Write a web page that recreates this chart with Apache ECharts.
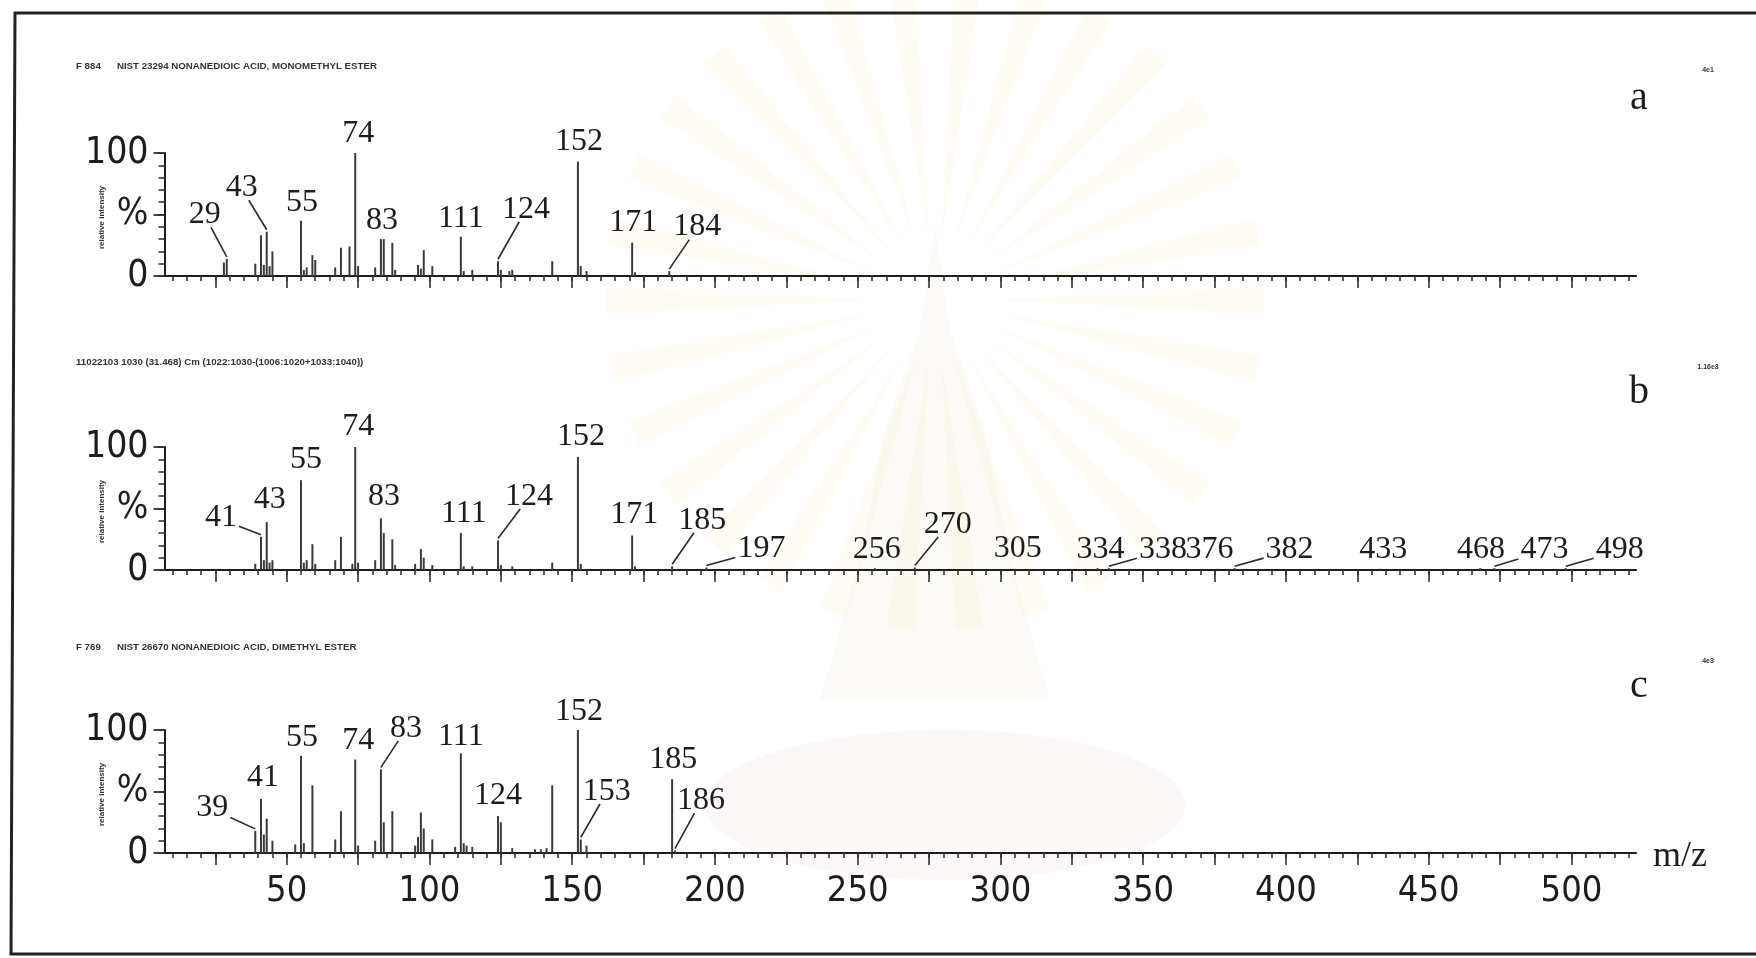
<!DOCTYPE html>
<html>
<head>
<meta charset="utf-8">
<script src="https://cdn.jsdelivr.net/npm/echarts@6/dist/echarts.min.js"></script>
<style>
  html, body { margin: 0; padding: 0; background: #ffffff; }
  #chart { width: 1756px; height: 958px; }
</style>
</head>
<body>
<div id="chart"></div>
<script>
// ---- spectrum a : library spectrum, nonanedioic acid monomethyl ester ----
const mzA  = [28, 29, 39, 41, 42, 43, 44, 45, 55, 56, 57, 59, 60, 67, 69, 72, 74, 75, 81, 83, 84, 87, 88,
              96, 97, 98, 101, 111, 112, 115, 124, 125, 128, 129, 143, 152, 153, 155, 171, 172, 184];
const relA = [11, 14, 10, 33, 9, 36, 8, 20, 45, 5, 7, 17, 13, 7, 23, 24, 100, 8, 7, 30, 30, 27, 5,
              9, 6, 21, 8, 32, 4, 5, 12, 5, 4, 5, 12, 93, 8, 4, 27, 3, 4];
const labelsA = [29, 43, 55, 74, 83, 111, 124, 152, 171, 184];

// ---- spectrum b : sample scan 1030 ----
const mzB  = [39, 41, 42, 43, 44, 45, 55, 56, 57, 59, 60, 67, 69, 73, 74, 75, 81, 83, 84, 87, 88, 95,
              97, 98, 101, 111, 112, 115, 124, 125, 129, 143, 152, 153, 171, 172, 185, 197, 256, 270,
              305, 334, 338, 376, 382, 433, 468, 473, 498];
const relB = [5, 27, 8, 39, 6, 8, 73, 6, 8, 21, 5, 8, 27, 5, 100, 6, 8, 42, 30, 25, 4, 5,
              17, 10, 4, 30, 3, 3, 24, 4, 3, 6, 92, 5, 28, 3, 3, 2, 1.5, 2,
              1, 1.5, 1.5, 1, 1.5, 1, 1.5, 1.5, 1.5];
const labelsB = [41, 43, 55, 74, 83, 111, 124, 152, 171, 185, 197, 256, 270, 305, 334, 338, 376, 382,
                 433, 468, 473, 498];

// ---- spectrum c : library spectrum, nonanedioic acid dimethyl ester ----
const mzC  = [39, 41, 42, 43, 45, 53, 55, 56, 59, 67, 69, 74, 75, 81, 83, 84, 87, 95, 96, 97, 98, 101,
              109, 111, 112, 113, 115, 124, 125, 129, 137, 139, 141, 143, 152, 153, 155, 185, 186, 202];
const relC = [18, 44, 15, 28, 10, 7, 79, 8, 55, 11, 34, 76, 6, 10, 68, 25, 34, 6, 13, 33, 20, 11,
              5, 81, 8, 6, 5, 30, 25, 4, 3, 3, 4, 55, 100, 11, 6, 60, 2, 1];
const labelsC = [39, 41, 55, 74, 83, 111, 124, 152, 153, 185, 186];

// axis ticks and labels
const xTickLabels = [50, 100, 150, 200, 250, 300, 350, 400, 450, 500];
const yTickLabels = [0, 50, 100];
const headers = [
  'F 884      NIST 23294 NONANEDIOIC ACID, MONOMETHYL ESTER',
  '11022103 1030 (31.468) Cm (1022:1030-(1006:1020+1033:1040))',
  'F 769      NIST 26670 NONANEDIOIC ACID, DIMETHYL ESTER'
];
const panelLetters = ['a', 'b', 'c'];
const scaleNotes = ['4e1', '1.16e3', '4e3'];

// label placement relative to the top of each labelled line: [dx, dy, leader]
const labelPlacement = [
  { 29: [-22, -44, 1], 43: [-25, -44, 1], 55: [1, -18], 74: [3, -19], 83: [1, -19], 111: [0, -18],
    124: [28, -52, 1], 152: [1, -20], 171: [1, -20], 184: [28, -44, 1] },
  { 41: [-40, -19, 1], 43: [3, -22], 55: [5, -21], 74: [3, -20], 83: [3, -22], 111: [3, -20],
    124: [31, -44, 1], 152: [3, -20], 171: [2, -21], 185: [30, -46, 1], 197: [55, -19, 1],
    256: [2, -19], 270: [33, -43, 1], 305: [3, -20], 334: [3, -19], 338: [54, -19, 1], 376: [-8, -19],
    382: [55, -19, 1], 433: [3, -19], 468: [1, -19], 473: [50, -19, 1], 498: [54, -19, 1] },
  { 39: [-43, -23, 1], 41: [2, -21], 55: [1, -18], 74: [3, -19], 83: [25, -41, 1], 111: [0, -17],
    124: [0, -21], 152: [1, -18], 153: [26, -48, 1], 185: [1, -20], 186: [26, -50, 1] }
];

const spectra = [[mzA, relA, labelsA], [mzB, relB, labelsB], [mzC, relC, labelsC]];

const MZ_MIN = 7.2, MZ_MAX = 522.6;
const minorTicks = [];
for (let v = 10; v <= 520; v += 5) minorTicks.push(v);
const majorTicks = [];
for (let v = 25; v <= 500; v += 25) majorTicks.push(v);
const yMinorTicks = [0, 10, 20, 30, 40, 50, 60, 70, 80, 90, 100];

const INK = '#1d1d1d';
const BAR = '#3a3a3a';
const SANS_NARROW = '"Liberation Sans Narrow", "DejaVu Sans Condensed", "Liberation Sans", sans-serif';
const SANS = '"Liberation Sans", sans-serif';
const SERIF = '"Liberation Serif", "DejaVu Serif", serif';
const FS_PEAK = 32;

const panelTops = [153, 447, 730];
const PANEL_H = 123;
const GRID_LEFT = 164.5, GRID_W = 1471.5;

const grids = [], xAxes = [], yAxes = [], series = [];

function lineRenderer(params, api) {
  const m = api.value(0), v = api.value(1);
  const p0 = api.coord([m, 0]);
  const p1 = api.coord([m, v]);
  return { type: 'line', shape: { x1: p0[0], y1: p0[1], x2: p1[0], y2: p1[1] },
           style: { stroke: BAR, lineWidth: 2 } };
}

function makeLabelRenderer(placement) {
  return function (params, api) {
    const m = api.value(0), v = api.value(1);
    const top = api.coord([m, v]);
    const off = placement[m] || [0, -19];
    const cx = top[0] + off[0], cy = top[1] + off[1];
    const children = [{
      type: 'text', x: cx, y: cy,
      style: { text: String(m), fontSize: FS_PEAK, fontFamily: SERIF, fill: INK,
               align: 'center', verticalAlign: 'middle' }
    }];
    if (off[2]) {
      const hw = String(m).length * 0.25 * FS_PEAK + 2, hh = 0.36 * FS_PEAK + 1;
      const t = Math.min(hw / Math.max(Math.abs(off[0]), 1e-6), hh / Math.max(Math.abs(off[1]), 1e-6));
      children.push({
        type: 'line',
        shape: { x1: top[0], y1: top[1] - 2, x2: cx - off[0] * t, y2: cy - off[1] * t },
        style: { stroke: '#2a2a2a', lineWidth: 1.6 }
      });
    }
    return { type: 'group', children };
  };
}

spectra.forEach(function (sp, i) {
  const [mz, rel, labelled] = sp;
  grids.push({ left: GRID_LEFT, top: panelTops[i], width: GRID_W, height: PANEL_H, containLabel: false });

  // short ticks every 5 m/z
  xAxes.push({
    type: 'value', gridIndex: i, min: MZ_MIN, max: MZ_MAX, position: 'bottom',
    axisLine: { show: true, onZero: false, lineStyle: { color: INK, width: 2.2 } },
    axisTick: { show: true, customValues: minorTicks, length: 5, lineStyle: { color: '#333', width: 1.6 } },
    axisLabel: { show: false }, splitLine: { show: false }
  });
  // long ticks every 25 m/z, numbers on the lowest panel
  xAxes.push({
    type: 'value', gridIndex: i, min: MZ_MIN, max: MZ_MAX, position: 'bottom',
    axisLine: { show: false },
    axisTick: { show: true, customValues: majorTicks, length: 12, lineStyle: { color: '#333', width: 1.6 } },
    axisLabel: { show: i === 2, customValues: xTickLabels, fontFamily: SANS_NARROW, fontSize: 36,
                 color: INK, margin: 21 },
    splitLine: { show: false }
  });
  // intensity axis
  yAxes.push({
    type: 'value', gridIndex: i, min: 0, max: 100, position: 'left',
    axisLine: { show: true, lineStyle: { color: INK, width: 2 } },
    axisTick: { show: true, customValues: yMinorTicks, length: 6, lineStyle: { color: '#333', width: 1.6 } },
    axisLabel: { show: false }, splitLine: { show: false }
  });
  yAxes.push({
    type: 'value', gridIndex: i, min: 0, max: 100, position: 'left',
    axisLine: { show: false },
    axisTick: { show: true, customValues: yTickLabels, length: 11, lineStyle: { color: '#333', width: 1.8 } },
    axisLabel: { show: true, customValues: yTickLabels, fontFamily: SANS_NARROW, fontSize: 37,
                 color: INK, margin: 16,
                 formatter: function (v) { return v === 50 ? '%' : String(v); } },
    splitLine: { show: false }
  });

  series.push({
    type: 'custom', xAxisIndex: 2 * i, yAxisIndex: 2 * i,
    data: mz.map(function (m, k) { return [m, rel[k]]; }),
    renderItem: lineRenderer, silent: true, clip: false
  });
  series.push({
    type: 'custom', xAxisIndex: 2 * i, yAxisIndex: 2 * i,
    data: labelled.map(function (m) { return [m, rel[mz.indexOf(m)]]; }),
    renderItem: makeLabelRenderer(labelPlacement[i]), silent: true, clip: false, z: 5
  });
});

// very faint emblem printed behind the figure: sunburst, spire and cushion
const emblem = [];
const EC = [935, 300];
for (let a = 0; a < 360; a += 12) {
  const r0 = 60, r1 = 330, half = 2.4 * Math.PI / 180, th = a * Math.PI / 180;
  emblem.push({ type: 'polygon', silent: true,
    shape: { points: [
      [EC[0] + r0 * Math.cos(th), EC[1] + r0 * Math.sin(th)],
      [EC[0] + r1 * Math.cos(th - half), EC[1] + r1 * Math.sin(th - half)],
      [EC[0] + r1 * Math.cos(th + half), EC[1] + r1 * Math.sin(th + half)]] },
    style: { fill: 'rgba(246, 228, 160, 0.10)', shadowBlur: 12, shadowColor: 'rgba(246, 228, 160, 0.10)' } });
}
emblem.push({ type: 'polygon', silent: true,
  shape: { points: [[935, 225], [950, 330], [985, 430], [1010, 560], [1050, 700], [820, 700], [860, 560],
                    [885, 430], [920, 330]] },
  style: { fill: 'rgba(236, 226, 196, 0.14)' } });
emblem.push({ type: 'ellipse', silent: true, shape: { cx: 945, cy: 805, rx: 240, ry: 75 },
  style: { fill: 'rgba(240, 200, 200, 0.12)' } });

// page furniture: frame, run headers, panel letters, axis captions
const headerY = [66, 362, 647];
const letterY = [98, 392, 686];
const noteY = [70, 367, 661];
const graphics = [{ type: 'group', z: -10, children: emblem }, {
  type: 'polyline', silent: true,
  shape: { points: [[1760, 13], [15, 13], [11, 954], [1760, 954]] },
  style: { stroke: '#222', lineWidth: 3, fill: null }
}];
for (let i = 0; i < 3; i++) {
  graphics.push({ type: 'text', left: 76, top: headerY[i] - 5, silent: true,
    style: { text: headers[i], fontSize: 9.7, fontWeight: 'bold', fontFamily: SANS, fill: '#333' } });
  graphics.push({ type: 'text', x: 1639, y: letterY[i], silent: true,
    style: { text: panelLetters[i], fontSize: 40, fontFamily: SERIF, fill: INK, align: 'center', verticalAlign: 'middle' } });
  graphics.push({ type: 'text', x: 1708, y: noteY[i], silent: true,
    style: { text: scaleNotes[i], fontSize: 7, fontWeight: 'bold', fontFamily: SANS, fill: '#333', align: 'center', verticalAlign: 'middle' } });
  graphics.push({ type: 'text', x: 102, y: panelTops[i] + PANEL_H / 2 + 3, rotation: Math.PI / 2, silent: true,
    style: { text: 'relative intensity', fontSize: 8, fontWeight: 'bold', fontFamily: SANS, fill: '#333', align: 'center', verticalAlign: 'middle' } });
}
graphics.push({ type: 'text', x: 1680, y: 857, silent: true,
  style: { text: 'm/z', fontSize: 36, fontFamily: SERIF, fill: INK, align: 'center', verticalAlign: 'middle' } });

const chart = echarts.init(document.getElementById('chart'), null, { renderer: 'canvas' });
chart.setOption({
  backgroundColor: '#ffffff',
  animation: false,
  grid: grids,
  xAxis: xAxes,
  yAxis: yAxes,
  series: series,
  graphic: graphics
});
</script>
</body>
</html>
